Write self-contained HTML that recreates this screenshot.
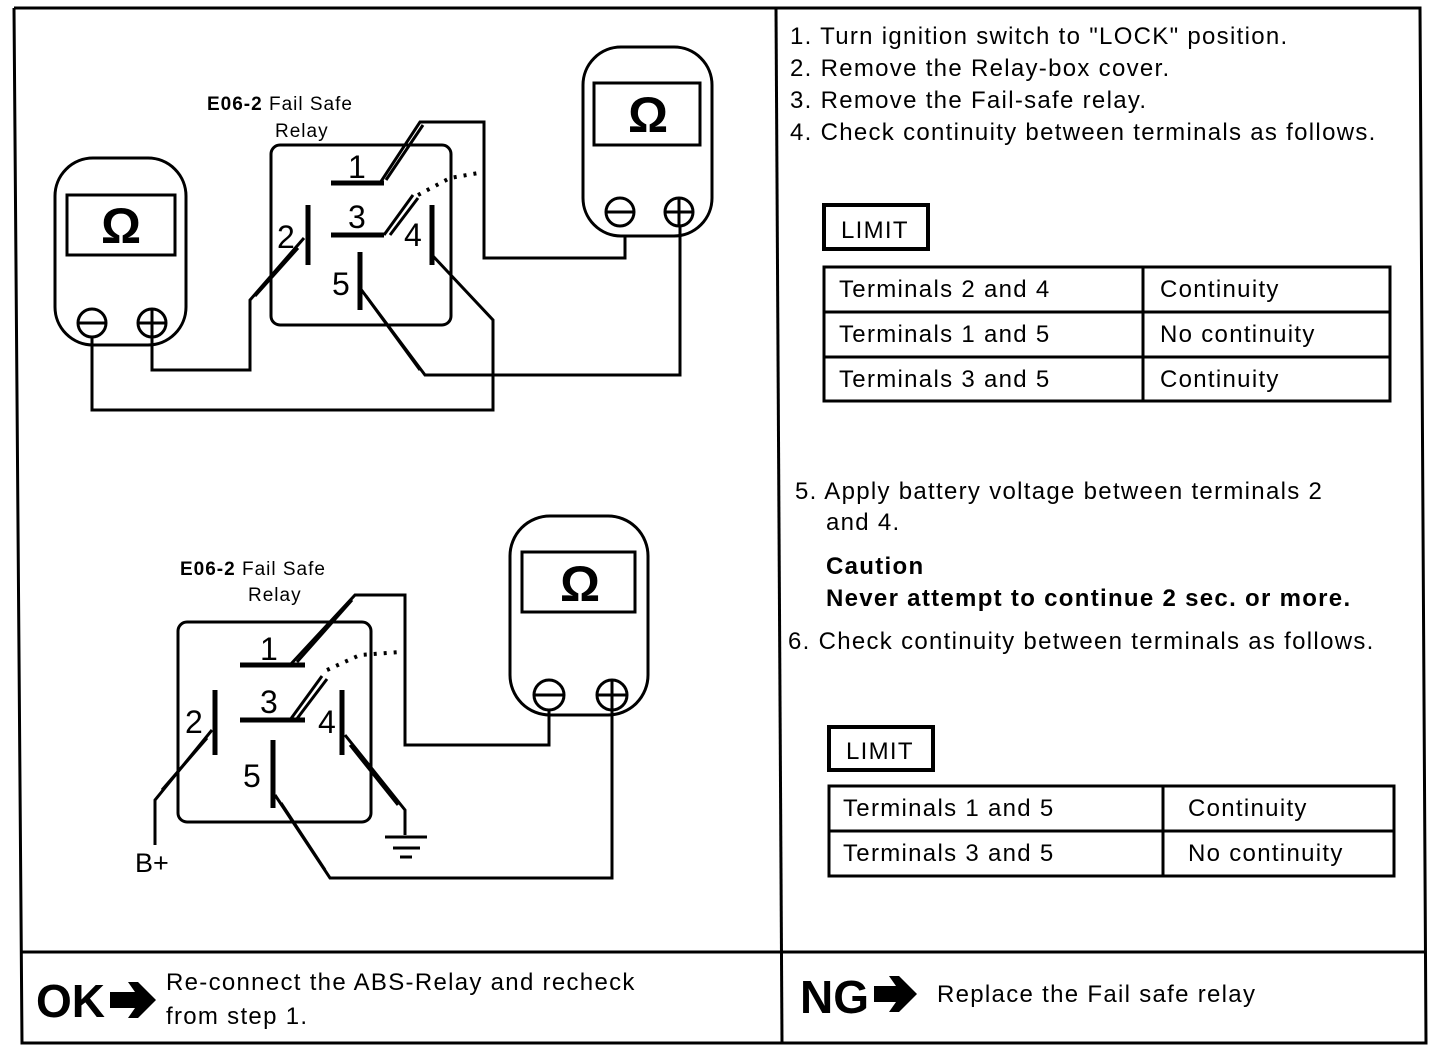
<!DOCTYPE html>
<html><head><meta charset="utf-8"><style>
html,body{margin:0;padding:0;background:#fff}
svg{display:block}
text{font-family:"Liberation Sans",Arial,sans-serif;fill:#000}
.t{font-size:24px;letter-spacing:1.3px}
</style></head><body>
<svg width="1440" height="1052" viewBox="0 0 1440 1052" xmlns="http://www.w3.org/2000/svg">
<g fill="none" stroke="#000" stroke-width="3">
<polyline points="14,8 1420,8 1426,1043 22,1043 14,8"/>
<line x1="776" y1="8" x2="782" y2="1043"/>
<line x1="22" y1="952" x2="1426" y2="952"/>

<rect x="55" y="158" width="131" height="187" rx="38"/>
<rect x="67" y="195" width="108" height="60"/>
<circle cx="92" cy="323" r="14"/><line x1="78" y1="323" x2="106" y2="323"/>
<circle cx="152" cy="323" r="14"/><line x1="138" y1="323" x2="166" y2="323"/><line x1="152" y1="309" x2="152" y2="337"/>

<rect x="583" y="47" width="129" height="189" rx="38"/>
<rect x="594" y="83" width="106" height="62"/>
<circle cx="620" cy="212" r="14"/><line x1="606" y1="212" x2="634" y2="212"/>
<circle cx="679" cy="212" r="14"/><line x1="665" y1="212" x2="693" y2="212"/><line x1="679" y1="198" x2="679" y2="226"/>

<rect x="271" y="145" width="180" height="180" rx="9"/>
<g stroke-width="5">
<line x1="331" y1="183" x2="384" y2="183"/>
<line x1="331" y1="235" x2="384" y2="235"/>
<line x1="308" y1="205" x2="308" y2="265"/>
<line x1="432" y1="205" x2="432" y2="265"/>
<line x1="360" y1="252" x2="360" y2="310"/>
</g>
<polyline points="380,183 420,122 484,122 484,258 625,258 625,236"/>
<line x1="386" y1="180" x2="423" y2="125"/>
<line x1="384" y1="235" x2="413" y2="195"/><line x1="390" y1="235" x2="418" y2="198"/>
<polyline points="418,195 450,178 484,172" stroke-dasharray="3,7" stroke-width="4"/>
<polyline points="304,238 250,300 250,370 152,370 152,337"/>
<line x1="298" y1="248" x2="255" y2="296"/>
<polyline points="432,255 493,320 493,410 92,410 92,337"/>
<polyline points="360,288 425,375 680,375 680,226"/>
<line x1="366" y1="296" x2="420" y2="370"/>

<rect x="510" y="516" width="138" height="199" rx="40"/>
<rect x="522" y="552" width="113" height="60"/>
<circle cx="549" cy="695" r="15"/><line x1="534" y1="695" x2="564" y2="695"/>
<circle cx="612" cy="695" r="15"/><line x1="597" y1="695" x2="627" y2="695"/><line x1="612" y1="680" x2="612" y2="710"/>

<rect x="178" y="622" width="193" height="200" rx="9"/>
<g stroke-width="5">
<line x1="240" y1="665" x2="305" y2="665"/>
<line x1="240" y1="720" x2="305" y2="720"/>
<line x1="215" y1="690" x2="215" y2="755"/>
<line x1="342" y1="690" x2="342" y2="755"/>
<line x1="273" y1="740" x2="273" y2="808"/>
</g>
<polyline points="290,665 355,595 405,595 405,745 549,745 549,710"/>
<line x1="297" y1="662" x2="352" y2="600"/>
<line x1="290" y1="720" x2="322" y2="676"/><line x1="296" y1="720" x2="327" y2="679"/>
<polyline points="327,670 360,655 400,652" stroke-dasharray="3,7" stroke-width="4"/>
<polyline points="212,730 155,800 155,845"/>
<line x1="207" y1="738" x2="162" y2="790"/>
<polyline points="345,735 405,810 405,835"/>
<line x1="350" y1="745" x2="398" y2="805"/>
<line x1="385" y1="837" x2="427" y2="837"/>
<line x1="393" y1="848" x2="420" y2="848"/>
<line x1="400" y1="857" x2="412" y2="857"/>
<polyline points="275,795 330,878 612,878 612,710"/>
<line x1="281" y1="803" x2="325" y2="870"/>

<rect x="824" y="205" width="104" height="44" stroke-width="4"/>
<rect x="824" y="267" width="566" height="134"/>
<line x1="824" y1="312" x2="1390" y2="312"/><line x1="824" y1="357" x2="1390" y2="357"/>
<line x1="1143" y1="267" x2="1143" y2="401"/>
<rect x="829" y="727" width="104" height="43" stroke-width="4"/>
<rect x="829" y="786" width="565" height="90"/>
<line x1="829" y1="831" x2="1394" y2="831"/>
<line x1="1163" y1="786" x2="1163" y2="876"/>
</g>

<g font-size="50" font-weight="bold" text-anchor="middle">
<text x="121" y="243">Ω</text>
<text x="648" y="132">Ω</text>
<text x="580" y="601">Ω</text>
</g>
<g font-size="32">
<text x="348" y="178">1</text><text x="348" y="228">3</text>
<text x="277" y="248">2</text><text x="404" y="246">4</text>
<text x="332" y="295">5</text>
<text x="260" y="660">1</text><text x="260" y="713">3</text>
<text x="185" y="733">2</text><text x="318" y="733">4</text>
<text x="243" y="787">5</text>
</g>
<text x="135" y="872" font-size="27">B+</text>
<g font-size="19" letter-spacing="1" font-weight="bold">
<text x="207" y="110">E06-2 <tspan font-weight="normal">Fail Safe</tspan></text>
<text x="275" y="137" font-weight="normal">Relay</text>
<text x="180" y="575">E06-2 <tspan font-weight="normal">Fail Safe</tspan></text>
<text x="248" y="601" font-weight="normal">Relay</text>
</g>

<g class="t">
<text x="790" y="44">1. Turn ignition switch to "LOCK" position.</text>
<text x="790" y="76">2. Remove the Relay-box cover.</text>
<text x="790" y="108">3. Remove the Fail-safe relay.</text>
<text x="790" y="140">4. Check continuity between terminals as follows.</text>
<text x="841" y="238">LIMIT</text>
<text x="839" y="297">Terminals 2 and 4</text><text x="1160" y="297">Continuity</text>
<text x="839" y="342">Terminals 1 and 5</text><text x="1160" y="342">No continuity</text>
<text x="839" y="387">Terminals 3 and 5</text><text x="1160" y="387">Continuity</text>
<text x="795" y="499">5. Apply battery voltage between terminals 2</text>
<text x="826" y="530">and 4.</text>
<text x="826" y="574" font-weight="bold">Caution</text>
<text x="826" y="606" font-weight="bold">Never attempt to continue 2 sec. or more.</text>
<text x="788" y="649">6. Check continuity between terminals as follows.</text>
<text x="846" y="759">LIMIT</text>
<text x="843" y="816">Terminals 1 and 5</text><text x="1188" y="816">Continuity</text>
<text x="843" y="861">Terminals 3 and 5</text><text x="1188" y="861">No continuity</text>
<text x="166" y="990">Re-connect the ABS-Relay and recheck</text>
<text x="166" y="1024">from step 1.</text>
<text x="937" y="1002">Replace the Fail safe relay</text>
</g>
<g font-size="46" font-weight="bold">
<text x="36" y="1017">OK</text>
<text x="800" y="1013">NG</text>
</g>
<polygon points="110,992 135,992 128,982 138,982 156,1000 138,1018 128,1018 135,1008 110,1008"/>
<polygon points="874,986 896,986 889,976 899,976 917,994 899,1012 889,1012 896,1002 874,1002"/>
</svg>
</body></html>
